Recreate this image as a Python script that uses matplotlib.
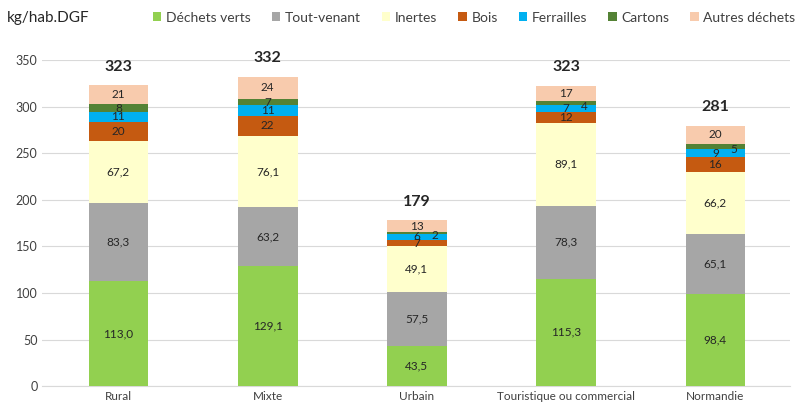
import matplotlib
matplotlib.use("Agg")
import matplotlib.pyplot as plt
import numpy as np

plt.rcParams['font.family'] = ['Lato', 'DejaVu Sans']

categories = ["Rural", "Mixte", "Urbain", "Touristique ou commercial", "Normandie"]
series_names = ["Déchets verts", "Tout-venant", "Inertes", "Bois", "Ferrailles", "Cartons", "Autres déchets"]
dechets_verts = [113.0, 129.1, 43.5, 115.3, 98.4]
tout_venant = [83.3, 63.2, 57.5, 78.3, 65.1]
inertes = [67.2, 76.1, 49.1, 89.1, 66.2]
bois = [20, 22, 7, 12, 16]
ferrailles = [11, 11, 6, 7, 9]
cartons = [8, 7, 2, 4, 5]
autres = [21, 24, 13, 17, 20]
totals = [323, 332, 179, 323, 281]
colors = ["#92D050", "#A6A6A6", "#FFFFCC", "#C55A11", "#00B0F0", "#548235", "#F8CBAD"]

series = [dechets_verts, tout_venant, inertes, bois, ferrailles, cartons, autres]
decimal = [True, True, True, False, False, False, False]

fig = plt.figure(figsize=(7.98, 4.09), dpi=100)
ax = fig.add_axes([0.053, 0.056, 0.937, 0.797])
x = np.arange(len(categories))
bottom = np.zeros(len(categories))
for name, vals, col, dec in zip(series_names, series, colors, decimal):
    vals = np.array(vals, dtype=float)
    ax.bar(x, vals, 0.4, bottom=bottom, color=col, label=name, zorder=3)
    for i, v in enumerate(vals):
        txt = (f"{v:.1f}".replace(".", ",")) if dec else f"{int(v)}"
        xo = 0
        yc = bottom[i] + v / 2
        if name == "Cartons" and v < 6:
            xo = 0.12
            yc = bottom[i] - 1
        ax.text(x[i] + xo, yc, txt, ha="center", va="center", fontsize=8.5,
                color="#262626", zorder=4)
    bottom += vals

for i, t in enumerate(totals):
    ax.annotate(str(t), (x[i], bottom[i]), xytext=(0, 8), textcoords="offset points",
                ha="center", va="bottom", fontsize=11.5, fontweight="bold", color="#262626")

ax.set_xlim(-0.51, 4.5)
ax.set_ylim(0, 350)
ax.set_yticks(np.arange(0, 351, 50))
ax.set_xticks(x)
ax.set_xticklabels(categories, fontsize=8.5, color="#404040")
ax.tick_params(axis="y", labelsize=9, colors="#404040", length=0)
ax.tick_params(axis="x", length=0)
ax.yaxis.grid(True, color="#D9D9D9", linewidth=0.8, zorder=0)
for s in ["top", "right", "left"]:
    ax.spines[s].set_visible(False)
ax.spines["bottom"].set_color("#D9D9D9")

fig.text(0.008, 0.955, "kg/hab.DGF", fontsize=11, color="#262626", va="center")
fig.legend(loc="center right", bbox_to_anchor=(0.997, 0.957), ncol=7, frameon=False,
           fontsize=10, handlelength=0.6, handleheight=0.6, handletextpad=0.35,
           columnspacing=1.5, labelcolor="#404040", borderaxespad=0, borderpad=0)

fig.savefig("out.png", dpi=100)
